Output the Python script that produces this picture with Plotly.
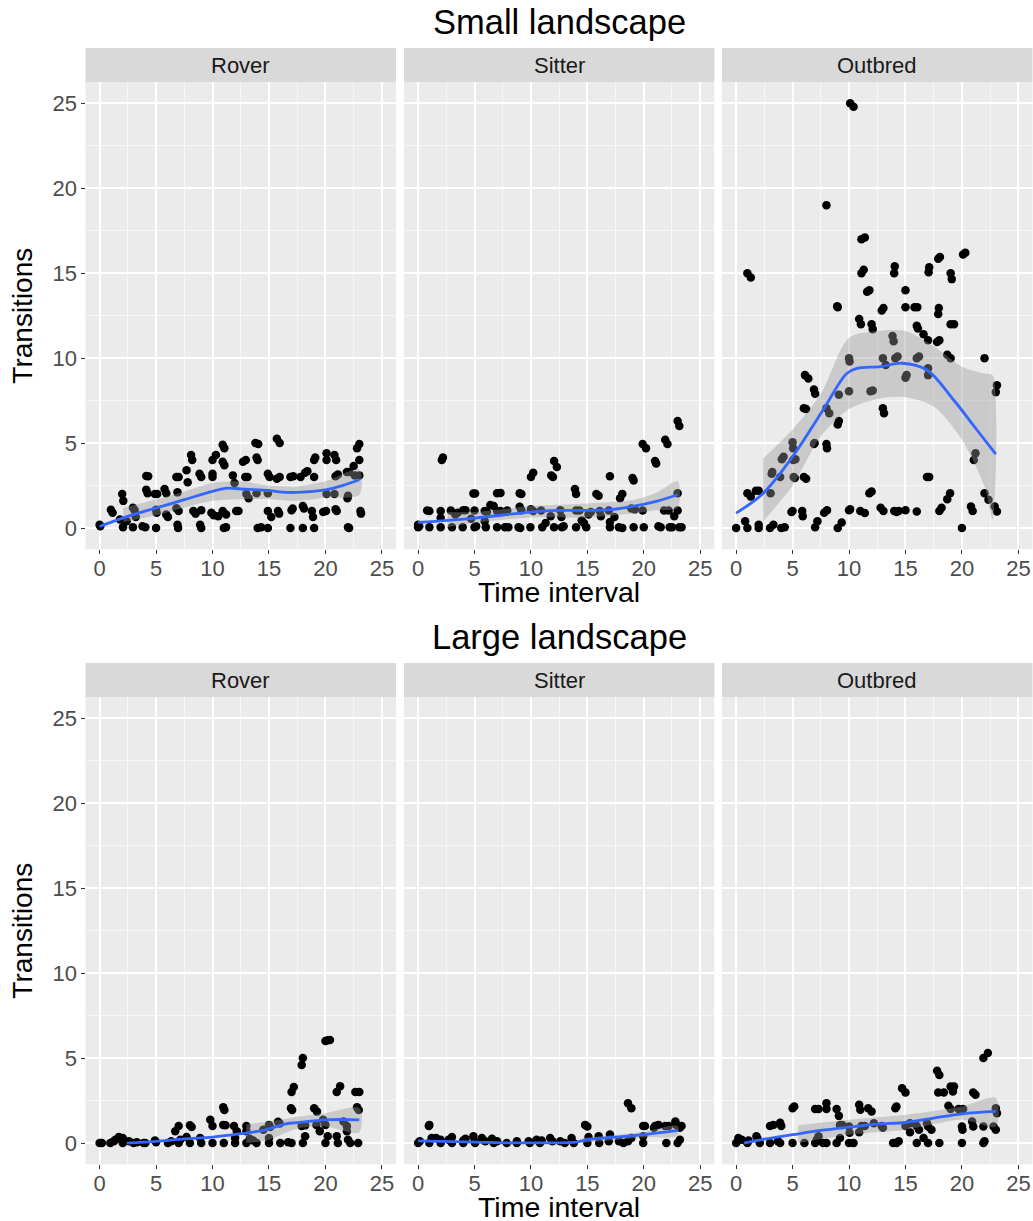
import plotly.graph_objects as go

W, H = 1033, 1221

panels = ["Rover", "Sitter", "Outbred"]
row_titles = ["Small landscape", "Large landscape"]
x_title = "Time interval"
y_title = "Transitions"
tick_vals = [0, 5, 10, 15, 20, 25]

# ---------------- Small landscape ----------------
rs_x = [0.06,0.0,1.0,1.15,2.0,2.1,1.8,2.07,2.4,2.95,3.1,2.95,3.2,3.8,4.05,4.13,4.3,4.13,4.25,4.9,5.1,5.0,5.0,5.05,5.75,5.9,5.9,6.05,6.8,7.0,6.9,6.8,7.0,6.9,6.95,7.7,7.8,8.1,8.2,8.3,8.5,8.85,9.0,9.0,8.9,9.0,10.0,10.3,10.0,10.0,9.9,10.1,10.5,10.9,11.05,10.9,11.05,10.9,11.2,11.0,11.2,11.8,11.95,12.1,12.3,12.7,12.95,12.9,13.1,13.0,13.2,13.8,14.05,13.9,14.0,13.9,14.0,14.3,14.9,15.05,14.9,14.9,15.2,14.9,15.7,15.95,15.7,15.95,15.8,15.9,16.9,17.15,17.0,17.1,16.9,17.8,18.2,18.4,18.0,18.1,18.0,18.8,18.9,19.0,19.1,19.0,19.0,19.8,20.05,20.1,20.1,20.1,20.8,20.95,20.8,20.9,21.0,20.9,21.1,21.9,22.1,22.0,21.95,22.0,22.1,22.5,22.6,22.8,23.0,23.0,23.0,23.1,23.15]
rs_y = [0.1,0.2,1.08,0.9,2.0,1.6,0.5,0.05,0.4,1.2,1.05,0.05,0.65,0.1,0.05,3.07,3.05,2.25,2.05,2.0,2.0,0.0,1.08,0.9,2.3,2.05,0.8,0.65,3.0,3.0,2.1,1.17,1.0,0.2,0.0,3.4,2.7,4.3,4.0,1.0,0.85,3.2,3.0,1.05,0.2,0.0,4.0,4.3,3.2,3.0,0.9,0.75,0.7,4.9,4.7,3.9,3.7,1.0,0.8,0.0,0.05,3.1,2.65,1.0,1.0,3.9,4.0,3.0,3.0,2.0,1.75,5.0,4.95,4.15,4.0,2.05,0.0,0.05,3.2,3.0,2.05,1.0,0.65,0.0,5.25,5.0,2.9,3.0,1.0,0.85,3.0,3.05,1.05,1.15,0.0,3.0,3.25,3.35,1.3,1.15,0.0,1.0,0.65,4.0,4.15,3.0,0.0,0.95,1.0,4.0,4.4,2.0,4.3,4.0,2.0,1.1,1.0,3.05,3.15,3.3,3.3,1.9,1.75,0.05,0.0,3.65,3.1,4.7,4.95,4.0,3.1,1.0,0.85]

ss_x = [0.0,0.1,0.0,0.8,1.0,1.0,2.0,2.0,2.0,2.1,2.2,2.9,3.0,3.3,3.5,4.0,4.2,3.95,4.7,4.9,5.05,5.0,5.0,5.15,5.9,6.1,5.9,6.0,6.4,6.7,7.0,7.3,7.0,7.3,7.0,7.7,7.9,8.0,8.9,9.05,9.0,9.15,9.0,9.15,10.0,10.2,9.95,10.0,10.2,10.9,11.0,11.3,11.75,11.8,11.95,12.05,12.3,12.05,12.6,12.7,12.75,12.9,13.9,14.0,14.0,14.3,14.0,14.5,14.7,14.9,15.1,15.3,15.8,16.0,16.1,16.2,16.9,17.0,17.0,17.0,17.4,17.8,18.1,17.9,18.1,18.9,19.2,19.0,19.1,19.1,19.9,20.2,19.9,20.0,21.0,21.1,21.3,21.5,21.8,22.2,21.9,22.1,22.3,22.5,22.7,23.0,23.15,23.0,23.0,23.15,23.35]
ss_y = [0.05,0.1,0.2,1.03,1.0,0.05,1.0,0.6,0.05,4.0,4.15,1.03,0.05,0.8,0.9,1.05,1.05,0.05,0.55,2.04,2.04,1.03,0.05,0.1,1.0,0.95,0.4,0.05,1.35,1.3,2.05,2.07,1.0,1.0,0.05,0.05,1.03,0.05,0.05,0.0,2.05,2.0,1.25,1.05,1.1,1.0,0.05,3.0,3.25,1.03,0.05,0.3,0.7,3.1,3.0,3.95,3.6,0.05,1.05,0.65,0.05,0.1,2.3,2.0,1.03,1.03,0.05,0.45,0.3,0.05,0.8,0.95,2.0,1.9,1.0,0.7,1.03,0.35,0.05,3.05,0.65,0.05,0.0,1.75,2.0,1.15,1.1,2.95,2.8,0.05,4.95,4.7,1.03,0.05,3.95,3.8,0.1,0.05,1.03,1.03,5.2,4.95,0.05,0.05,0.7,6.3,6.0,2.05,1.03,0.05,0.05]

os_x = [10.1,10.4,8.0,11.1,11.4,1.0,1.3,11.1,11.3,14.05,14.0,17.1,17.05,17.9,18.05,20.1,20.3,19.0,19.1,11.6,11.8,15.0,8.95,9.0,12.9,13.05,15.0,15.8,16.05,17.95,17.9,10.9,11.05,12.0,12.1,16.0,16.1,19.0,19.3,13.85,13.95,16.6,17.0,17.8,18.0,10.0,10.05,13.0,13.25,14.1,14.3,16.0,16.2,18.7,19.0,22.0,6.1,6.4,15.0,15.1,17.0,17.0,23.1,23.0,6.9,7.0,9.1,10.0,11.9,12.1,13.0,13.1,6.0,6.2,8.0,8.25,9.0,9.1,6.95,6.9,8.0,8.05,5.0,5.05,4.05,4.2,5.25,5.05,3.15,3.2,3.9,5.1,5.2,6.0,6.2,3.05,1.0,1.3,1.75,2.0,16.9,17.1,21.05,21.2,11.8,12.0,18.95,18.7,22.0,22.35,22.9,23.1,20.8,20.95,18.2,18.0,12.8,13.05,14.0,14.4,15.0,16.0,14.2,10.1,10.0,11.0,11.4,7.8,8.05,5.85,5.9,5.0,4.9,0.8,0.0,1.0,2.0,2.0,3.0,3.3,4.0,4.3,7.0,7.2,9.0,9.35,20.0]
os_y = [25.0,24.8,19.0,17.0,17.1,15.0,14.75,15.0,15.2,15.4,15.0,15.35,15.05,15.85,15.95,16.1,16.2,15.0,14.65,13.9,14.0,14.0,13.05,13.0,12.8,12.95,13.0,13.0,13.0,12.95,12.6,12.3,12.0,12.0,11.7,11.9,11.75,11.99,11.99,11.3,11.0,11.4,11.05,10.95,11.05,10.0,9.8,10.0,9.6,10.0,10.1,10.0,10.1,10.2,10.0,10.0,9.0,8.8,8.85,9.0,9.4,9.0,8.4,8.0,8.15,7.9,7.85,8.05,8.05,8.1,7.05,6.75,7.05,7.0,7.05,6.75,6.1,6.3,5.0,4.95,4.95,4.7,5.05,4.7,4.05,4.2,4.05,4.0,3.2,3.3,3.0,3.0,2.95,3.0,2.9,2.05,2.05,1.85,2.2,2.2,3.0,3.0,4.0,4.4,2.05,2.15,2.05,1.7,2.05,1.66,1.27,0.98,1.27,1.0,1.2,1.0,1.2,1.0,1.0,1.0,1.05,0.98,0.95,1.1,1.05,1.0,0.88,0.9,1.05,1.0,0.7,1.0,0.95,0.4,0.0,0.0,0.2,0.0,0.0,0.2,0.0,0.05,0.05,0.4,0.0,0.33,0.0]

# ---------------- Large landscape ----------------
rl_x = [0.0,0.2,0.95,1.25,1.4,1.7,2.05,2.05,2.6,3.0,3.3,3.9,4.05,4.9,5.0,6.05,6.35,6.7,7.0,7.0,7.15,7.7,8.0,8.15,8.0,8.9,9.0,9.8,10.0,10.0,10.95,11.05,10.95,11.15,11.0,11.9,12.15,12.0,12.0,13.0,13.0,13.0,13.3,13.6,13.9,14.5,15.0,15.1,15.0,15.0,15.8,15.95,16.0,16.7,17.0,16.95,17.05,17.0,17.2,17.9,18.0,17.9,18.2,18.0,18.2,19.0,19.25,19.2,19.5,19.8,20.0,20.0,20.2,20.4,20.0,20.2,21.0,21.3,21.0,21.1,21.6,21.9,21.9,22.0,22.2,22.65,23.0,22.8,22.95,22.9]
rl_y = [0.0,0.0,0.0,0.1,0.2,0.35,0.3,0.0,0.1,0.0,0.05,0.0,0.0,0.15,0.05,0.0,0.1,0.7,1.0,0.0,0.2,0.35,1.05,0.95,0.0,0.3,0.0,1.37,1.0,0.0,2.1,1.95,1.07,1.05,0.0,1.0,0.7,0.3,0.0,1.0,0.7,0.0,0.25,0.15,0.0,0.78,1.07,0.95,0.3,0.0,1.25,1.15,0.0,0.05,0.0,2.05,1.95,3.0,3.3,4.6,5.0,1.0,1.05,0.0,0.4,2.05,1.85,1.07,0.7,1.37,1.07,6.0,6.05,6.07,0.0,0.4,3.0,3.35,0.4,0.0,1.27,1.0,0.7,0.2,0.0,3.0,3.0,2.1,1.95,0.0]

sl_x = [0.0,0.15,0.95,1.0,1.0,1.2,1.6,2.0,2.0,2.7,3.0,3.0,4.0,4.2,4.0,4.9,5.0,5.05,5.65,5.95,6.55,6.7,7.0,7.85,8.75,8.75,9.9,9.8,10.5,10.8,10.95,11.7,11.9,12.6,13.0,13.6,13.8,14.8,15.0,15.0,15.1,16.0,16.05,16.9,17.0,17.8,18.2,18.6,18.9,18.6,18.9,19.95,20.1,19.95,19.95,20.9,21.0,21.3,21.9,22.2,22.0,22.8,22.9,23.2,23.35,23.0,23.2]
sl_y = [0.0,0.1,1.0,1.07,0.0,0.3,0.3,0.2,0.0,0.2,0.35,0.0,0.15,0.25,0.0,0.4,0.1,0.0,0.3,0.1,0.25,0.0,0.1,0.0,0.1,0.0,0.0,0.1,0.2,0.0,0.15,0.3,0.1,0.1,0.0,0.3,0.0,1.07,0.98,0.0,0.35,0.4,0.0,0.1,0.5,0.1,0.0,2.35,2.05,0.1,0.3,1.0,1.0,0.4,0.0,0.9,1.0,1.07,1.0,1.0,0.0,1.27,1.07,0.9,1.0,0.0,0.2]

ol_x = [0.0,0.2,0.5,1.0,1.1,1.8,1.9,2.1,3.0,3.3,3.0,3.7,3.9,3.9,4.0,5.0,5.15,5.0,6.05,7.0,7.3,7.0,7.15,7.3,7.7,8.0,8.0,8.0,8.9,9.1,8.9,9.2,9.2,9.4,10.0,10.05,10.0,10.4,10.9,11.0,10.9,11.1,11.4,11.7,12.0,12.2,12.9,13.0,13.9,14.2,14.4,14.1,14.2,14.7,15.0,15.0,15.4,15.4,16.0,16.2,16.0,16.6,16.9,17.0,17.0,17.3,17.8,18.0,17.9,18.4,18.0,18.8,19.0,19.2,19.3,19.0,19.7,20.1,20.0,20.05,20.0,20.9,21.0,21.0,21.2,21.9,22.0,21.9,21.9,22.3,22.8,23.0,23.0,23.1]
ol_y = [0.0,0.3,0.2,0.0,0.15,0.4,0.25,0.0,1.0,1.07,0.0,0.1,0.0,1.2,1.0,2.05,2.15,0.0,0.0,2.0,2.0,0.0,0.2,0.4,0.0,0.0,2.35,2.0,2.0,1.6,0.0,0.3,1.07,1.07,0.98,0.6,0.0,0.0,2.25,1.96,0.63,1.0,1.0,2.05,1.86,1.17,1.0,0.9,0.0,0.0,0.1,2.05,2.15,3.23,2.98,1.0,1.17,0.63,1.0,0.78,0.0,0.3,1.17,0.98,0.0,0.78,4.25,4.0,2.98,2.98,0.0,2.2,3.33,3.04,3.33,2.0,2.0,2.0,0.98,0.78,0.0,1.27,0.98,2.98,2.84,0.0,0.1,0.98,5.0,5.3,0.98,0.78,2.05,1.76]

# ---------------- Smoothers (fit + band) ----------------
rs_fx = [0, 2.5, 5, 7.5, 10, 11.3, 12.5, 15, 16.5, 17.5, 20, 21.5, 23]
rs_fy = [0.1, 0.69, 1.18, 1.67, 2.16, 2.35, 2.3, 2.2, 2.1, 2.1, 2.25, 2.5, 2.84]
rs_bx = [2.1, 5, 7.5, 10, 12.5, 15, 17.5, 20, 23]
rs_lo = [0.35, 0.75, 1.2, 1.6, 1.7, 1.7, 1.6, 1.78, 1.96]
rs_hi = [1.2, 1.68, 2.15, 2.65, 2.75, 2.5, 2.45, 2.75, 3.45]

ss_fx = [0, 5, 10, 12.4, 15, 17, 19, 21.1, 23]
ss_fy = [0.33, 0.59, 0.94, 1.04, 1.04, 1.08, 1.27, 1.57, 1.96]
ss_bx = [2.6, 5, 10, 15, 19, 21, 23]
ss_lo = [0.05, 0.3, 0.62, 0.62, 0.85, 1.05, 1.2]
ss_hi = [0.95, 0.95, 1.3, 1.45, 1.65, 2.05, 2.75]

os_fx = [0, 2.4, 5, 7.7, 9.8, 10.7, 12.8, 14.7, 16.9, 19.25, 21.3, 23]
os_fy = [0.88, 2.05, 4.2, 6.95, 9.1, 9.4, 9.5, 9.7, 9.3, 7.55, 5.8, 4.35]
os_bx = [2.4, 5, 7.5, 10, 12.5, 15, 17.5, 20, 22, 22.7]
os_lo = [0.39, 2.5, 5.4, 7.0, 7.6, 7.7, 7.15, 5.2, 2.45, 0.5]
os_hi = [4.1, 5.8, 7.9, 11.2, 11.6, 11.6, 10.7, 9.5, 9.1, 9.0]

rl_fx = [2.4, 5, 7.5, 10, 12.5, 14.7, 16.5, 17.5, 20, 23]
rl_fy = [0.0, 0.1, 0.25, 0.35, 0.55, 0.78, 1.13, 1.2, 1.37, 1.37]
rl_bx = [13, 15, 17.5, 20, 23]
rl_lo = [0.0, 0.2, 0.85, 0.98, 0.63]
rl_hi = [1.1, 1.27, 1.55, 1.76, 2.06]

sl_fx = [0, 5, 8, 10, 12, 14, 15, 17.5, 20, 23]
sl_fy = [0.13, 0.06, 0.01, 0.01, 0.01, 0.05, 0.2, 0.35, 0.5, 0.75]
sl_bx = [14.5, 17, 20, 23]
sl_lo = [0.0, 0.15, 0.33, 0.45]
sl_hi = [0.3, 0.45, 0.67, 1.0]

ol_fx = [0.7, 2.5, 5, 7.5, 10, 12.5, 15, 17.5, 20, 23]
ol_fy = [0.0, 0.23, 0.49, 0.74, 0.94, 1.12, 1.21, 1.47, 1.72, 1.86]
ol_bx = [5.5, 10, 15, 20, 23]
ol_lo = [0.0, 0.49, 0.78, 1.37, 0.98]
ol_hi = [1.05, 1.37, 1.66, 2.15, 2.65]

points = [(rs_x, rs_y), (ss_x, ss_y), (os_x, os_y), (rl_x, rl_y), (sl_x, sl_y), (ol_x, ol_y)]
fits = [(rs_fx, rs_fy), (ss_fx, ss_fy), (os_fx, os_fy), (rl_fx, rl_fy), (sl_fx, sl_fy), (ol_fx, ol_fy)]
bands = [(rs_bx, rs_lo, rs_hi), (ss_bx, ss_lo, ss_hi), (os_bx, os_lo, os_hi),
         (rl_bx, rl_lo, rl_hi), (sl_bx, sl_lo, sl_hi), (ol_bx, ol_lo, ol_hi)]

# ---------------- layout geometry (pixels) ----------------
col_px = [(85.5, 396.0), (404.0, 714.3), (722.0, 1032.5)]
row_px = [(82.0, 549.3), (697.0, 1164.3)]      # panel top/bottom
strip_h = 34.0
FONT = "Liberation Sans, Arial, Helvetica, sans-serif"

fig = go.Figure()
layout_axes = {}
shapes = []
annotations = []

for i in range(6):
    r, c = divmod(i, 3)
    n = i + 1
    xa = "x" if n == 1 else f"x{n}"
    ya = "y" if n == 1 else f"y{n}"
    px, py = points[i]
    fig.add_trace(go.Scatter(x=px, y=py, mode="markers", xaxis=xa, yaxis=ya,
                             marker=dict(color="black", size=8.5, line=dict(width=0)),
                             showlegend=False, hoverinfo="skip"))
    bx, lo, hi = bands[i]
    fig.add_trace(go.Scatter(x=list(bx) + list(bx)[::-1], y=list(hi) + list(lo)[::-1],
                             mode="lines", fill="toself", xaxis=xa, yaxis=ya,
                             fillcolor="rgba(153,153,153,0.4)", line=dict(width=0, shape="spline", smoothing=0.8),
                             showlegend=False, hoverinfo="skip"))
    fx, fy = fits[i]
    fig.add_trace(go.Scatter(x=fx, y=fy, mode="lines", xaxis=xa, yaxis=ya,
                             line=dict(color="#3366FF", width=2.8, shape="spline", smoothing=1.0),
                             showlegend=False, hoverinfo="skip"))

    x0, x1 = col_px[c]
    t, b = row_px[r]
    xdom = [x0 / W, x1 / W]
    ydom = [1 - b / H, 1 - t / H]
    common = dict(range=[-1.25, 26.25], showline=False, zeroline=False,
                  showgrid=True, gridcolor="white", gridwidth=1.5,
                  minor=dict(tickmode="linear", tick0=2.5, dtick=5, showgrid=True,
                             gridcolor="#F7F7F7", gridwidth=0.8),
                  tickfont=dict(family=FONT, size=22, color="#4D4D4D"),
                  tickcolor="#333333", ticklen=4, tickwidth=1.1)
    layout_axes["xaxis" if n == 1 else f"xaxis{n}"] = dict(
        domain=xdom, anchor=ya, tickmode="array", tickvals=tick_vals,
        ticktext=[str(v) for v in tick_vals], ticks="outside",
        ticklabelstandoff=-5, **common)
    layout_axes["yaxis" if n == 1 else f"yaxis{n}"] = dict(
        domain=ydom, anchor=xa, tickmode="array", tickvals=tick_vals,
        ticktext=[str(v) for v in tick_vals],
        ticks="outside" if c == 0 else "", showticklabels=(c == 0),
        ticklabelstandoff=-1, **common)

    # strip
    shapes.append(dict(type="rect", xref="paper", yref="paper",
                       x0=x0 / W, x1=x1 / W, y0=1 - t / H, y1=1 - (t - strip_h) / H,
                       fillcolor="#D9D9D9", line=dict(width=0), layer="below"))
    annotations.append(dict(text=panels[c], xref="paper", yref="paper",
                            x=(x0 + x1) / 2 / W, y=1 - (t - strip_h / 2) / H,
                            xanchor="center", yanchor="middle", showarrow=False,
                            font=dict(family=FONT, size=22, color="#1A1A1A")))

cx = (85.5 + 1032.5) / 2 / W
for r in range(2):
    t, b = row_px[r]
    annotations.append(dict(text=row_titles[r], xref="paper", yref="paper",
                            x=cx, y=1 - (t - strip_h - 26) / H, xanchor="center", yanchor="middle",
                            showarrow=False, font=dict(family=FONT, size=34.5, color="black")))
    annotations.append(dict(text=x_title, xref="paper", yref="paper",
                            x=cx, y=1 - (b + 43) / H, xanchor="center", yanchor="middle",
                            showarrow=False, font=dict(family=FONT, size=28.5, color="black")))
    annotations.append(dict(text=y_title, xref="paper", yref="paper",
                            x=23 / W, y=1 - (t + b) / 2 / H, xanchor="center", yanchor="middle",
                            textangle=-90, showarrow=False,
                            font=dict(family=FONT, size=28, color="black")))

fig.update_layout(width=W, height=H, margin=dict(l=0, r=0, t=0, b=0),
                  paper_bgcolor="white", plot_bgcolor="#EBEBEB",
                  shapes=shapes, annotations=annotations, showlegend=False,
                  **layout_axes)

fig.write_html("out.html", config={"displayModeBar": False},
               post_script="document.body.style.margin='0';document.body.style.overflow='hidden';")
